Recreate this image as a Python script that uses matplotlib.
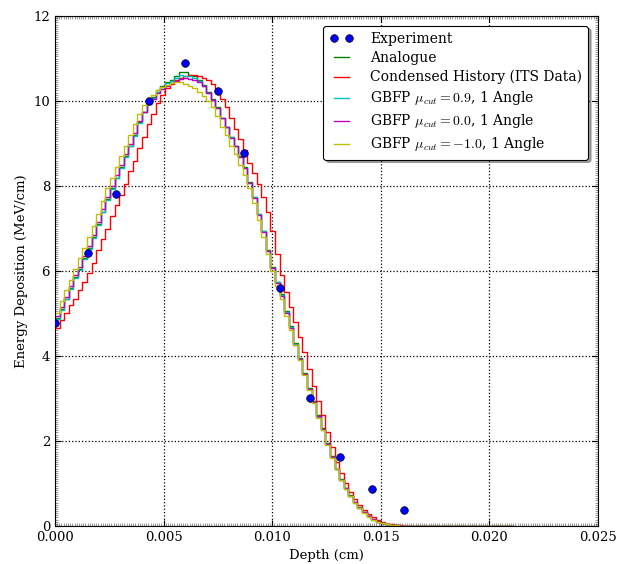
import numpy as np
import matplotlib
matplotlib.use('Agg')
import matplotlib.pyplot as plt
from matplotlib.ticker import MultipleLocator

plt.rcParams['font.family'] = ['DejaVu Serif']
plt.rcParams['mathtext.fontset'] = 'cm'
plt.rcParams['font.size'] = 9.5

# experimental points
exp_x = [0.0, 0.00151, 0.00282, 0.00431, 0.00597, 0.0075, 0.0087,
         0.01034, 0.01172, 0.0131, 0.01459, 0.01605]
exp_y = [4.78, 6.42, 7.81, 10.0, 10.89, 10.24, 8.77,
         5.61, 3.02, 1.62, 0.86, 0.38]

tail = [0.003, 0.002, 0.002, 0.001, 0.001, 0.001, 0.0, 0.0, 0.0, 0.0, 0.0,
        0.0, 0.0, 0.0, 0.0, 0.0, 0.0, 0.0, 0.0, 0.0, 0.0, 0.0]

analogue = [4.9, 5.1, 5.35, 5.6, 5.85, 6.05, 6.3, 6.55, 6.8, 7.1,
            7.4, 7.7, 7.95, 8.2, 8.45, 8.7, 8.95, 9.2, 9.5, 9.75,
            9.95, 10.1, 10.25, 10.35, 10.45, 10.5, 10.6, 10.68, 10.68, 10.62,
            10.58, 10.5, 10.38, 10.22, 10.05, 9.85, 9.6, 9.4, 9.15, 8.95,
            8.7, 8.45, 8.1, 7.75, 7.35, 6.95, 6.5, 6.1, 5.75, 5.45,
            5.05, 4.7, 4.3, 3.95, 3.6, 3.25, 2.95, 2.6, 2.3, 1.95,
            1.65, 1.35, 1.1, 0.9, 0.72, 0.57, 0.44, 0.33, 0.24, 0.16,
            0.11, 0.07, 0.045, 0.03, 0.02, 0.01, 0.006, 0.004] + tail

condensed = [4.65, 4.85, 5.0, 5.2, 5.35, 5.55, 5.75, 5.95, 6.2, 6.5,
             6.75, 7.0, 7.3, 7.55, 7.8, 8.05, 8.35, 8.6, 8.9, 9.15,
             9.45, 9.7, 9.95, 10.15, 10.3, 10.4, 10.5, 10.55, 10.58, 10.62,
             10.62, 10.6, 10.55, 10.5, 10.4, 10.25, 10.05, 9.85, 9.6, 9.35,
             9.1, 8.85, 8.55, 8.3, 8.05, 7.75, 7.4, 6.95, 6.4, 5.9,
             5.5, 5.15, 4.8, 4.45, 4.1, 3.7, 3.3, 2.95, 2.6, 2.2,
             1.85, 1.5, 1.25, 1.0, 0.8, 0.63, 0.5, 0.38, 0.28, 0.2,
             0.13, 0.085, 0.055, 0.035, 0.022, 0.013, 0.008, 0.005] + tail

gbfp_09 = [4.88, 5.08, 5.33, 5.58, 5.83, 6.02, 6.28, 6.52, 6.78, 7.08,
           7.38, 7.68, 7.93, 8.18, 8.43, 8.68, 8.93, 9.18, 9.48, 9.73,
           9.93, 10.08, 10.22, 10.32, 10.42, 10.48, 10.55, 10.62, 10.6, 10.58,
           10.55, 10.48, 10.36, 10.2, 10.03, 9.83, 9.6, 9.38, 9.15, 8.93,
           8.68, 8.43, 8.08, 7.73, 7.33, 6.93, 6.48, 6.08, 5.73, 5.43,
           5.03, 4.68, 4.28, 3.93, 3.58, 3.22, 2.92, 2.57, 2.27, 1.92,
           1.62, 1.33, 1.08, 0.88, 0.7, 0.55, 0.43, 0.32, 0.23, 0.15,
           0.1, 0.065, 0.04, 0.027, 0.018, 0.01, 0.006, 0.004] + tail

gbfp_00 = [4.95, 5.15, 5.4, 5.65, 5.9, 6.1, 6.35, 6.6, 6.85, 7.15,
           7.45, 7.75, 8.0, 8.25, 8.5, 8.75, 9.0, 9.25, 9.52, 9.75,
           9.93, 10.05, 10.18, 10.28, 10.35, 10.42, 10.48, 10.52, 10.54, 10.52,
           10.5, 10.45, 10.35, 10.2, 10.03, 9.83, 9.6, 9.38, 9.13, 8.93,
           8.68, 8.43, 8.08, 7.72, 7.32, 6.92, 6.47, 6.07, 5.72, 5.42,
           5.02, 4.67, 4.27, 3.92, 3.57, 3.22, 2.92, 2.58, 2.28, 1.93,
           1.63, 1.34, 1.09, 0.89, 0.71, 0.56, 0.43, 0.32, 0.23, 0.16,
           0.1, 0.068, 0.043, 0.028, 0.018, 0.01, 0.006, 0.004] + tail

gbfp_m10 = [5.0, 5.3, 5.55, 5.8, 6.05, 6.3, 6.55, 6.8, 7.05, 7.35,
            7.65, 7.95, 8.2, 8.45, 8.7, 8.95, 9.2, 9.45, 9.7, 9.9,
            10.05, 10.15, 10.25, 10.32, 10.38, 10.42, 10.45, 10.45, 10.4, 10.35,
            10.3, 10.22, 10.12, 10.0, 9.85, 9.65, 9.4, 9.2, 8.95, 8.75,
            8.5, 8.25, 7.95, 7.6, 7.2, 6.8, 6.4, 6.0, 5.65, 5.35,
            4.95, 4.6, 4.25, 3.9, 3.55, 3.2, 2.9, 2.55, 2.25, 1.9,
            1.6, 1.33, 1.08, 0.88, 0.7, 0.55, 0.42, 0.31, 0.22, 0.15,
            0.1, 0.065, 0.04, 0.025, 0.015, 0.01, 0.006, 0.004] + tail

edges = np.linspace(0.0, 0.0211, 101)


def step_line(ax, vals, color, label):
    y = np.append(vals, vals[-1])
    ax.step(edges, y, where='post', color=color, lw=1.0, label=label)


fig = plt.figure(figsize=(6.24, 5.64), dpi=100)
ax = fig.add_axes([0.0881, 0.0674, 0.8702, 0.9042])

exp_line, = ax.plot(exp_x, exp_y, 'o', color='b', mec='k', mew=0.5, ms=5.5,
                    label='Experiment', zorder=5)
step_line(ax, analogue, 'g', 'Analogue')
step_line(ax, condensed, 'r', 'Condensed History (ITS Data)')
step_line(ax, gbfp_09, 'c', r'GBFP $\mu_{cut}=0.9$, 1 Angle')
step_line(ax, gbfp_00, 'm', r'GBFP $\mu_{cut}=0.0$, 1 Angle')
step_line(ax, gbfp_m10, 'y', r'GBFP $\mu_{cut}=-1.0$, 1 Angle')

ax.set_xlim(0, 0.025)
ax.set_ylim(0, 12)
ax.xaxis.set_major_locator(MultipleLocator(0.005))
ax.yaxis.set_major_locator(MultipleLocator(2))
ax.xaxis.set_minor_locator(MultipleLocator(0.0001))
ax.yaxis.set_minor_locator(MultipleLocator(0.05))
ax.xaxis.set_major_formatter(matplotlib.ticker.FormatStrFormatter('%.3f'))
ax.tick_params(which='both', direction='in', top=True, right=True)
ax.tick_params(which='major', length=4, width=0.8)
ax.tick_params(which='minor', length=2, width=0.4, color='0.3')
ax.grid(True, which='major', color='k', linestyle=':', linewidth=0.9)

ax.set_xlabel('Depth (cm)')
ax.set_ylabel('Energy Deposition (MeV/cm)')

leg = ax.legend(loc='upper right', numpoints=2, shadow=True, fancybox=True,
                framealpha=1.0, edgecolor='k', handlelength=1.7,
                handletextpad=1.2, borderpad=0.45, labelspacing=0.36,
                borderaxespad=0.7, prop={'size': 10})
leg.get_frame().set_linewidth(0.8)

fig.savefig('out.png', dpi=100)
